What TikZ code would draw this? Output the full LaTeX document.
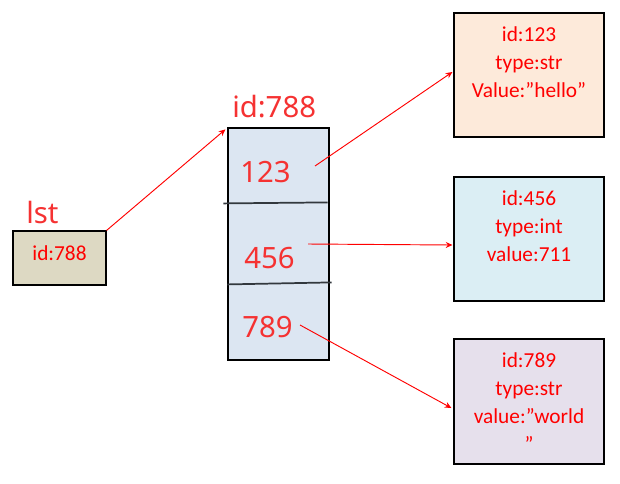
\documentclass[tikz,border=0pt]{standalone}
\usepackage{fontspec}
\setmainfont{Carlito}
\newfontfamily\bigfont{Noto Sans}
\usetikzlibrary{arrows.meta,positioning,calc}
\definecolor{lstfill}{RGB}{221,217,195}
\definecolor{memfill}{RGB}{220,230,242}
\definecolor{strfill}{RGB}{253,234,218}
\definecolor{intfill}{RGB}{219,238,244}
\definecolor{wldfill}{RGB}{230,224,236}
\definecolor{textred}{RGB}{255,0,0}
\definecolor{bigred}{RGB}{245,50,50}
\definecolor{divgray}{RGB}{50,56,62}

\begin{document}
\begin{tikzpicture}[
    x=0.75pt, y=-0.75pt,
    cell/.style={draw=black, line width=0.9pt, inner sep=0pt, text=textred, font=\fontsize{16}{21}\selectfont},
    objbox/.style={cell, minimum width=112.5pt, minimum height=93pt},
    objtext/.style={anchor=north, yshift=-10.5pt, inner sep=0pt, align=center, text=textred, font=\fontsize{16}{21}\selectfont},
    biglabel/.style={anchor=base west, inner sep=0pt, text=bigred, font=\bigfont\fontsize{22}{26}\selectfont},
    divider/.style={draw=divgray, line width=1.3pt},
    ptr/.style={-{Stealth[length=5pt,width=4.5pt]}, draw=red, line width=0.7pt}
]
    \useasboundingbox (0,0) rectangle (620,483);

    % Variable lst
    \node[cell, fill=lstfill, minimum width=69.75pt, minimum height=40.5pt, text depth=8pt] (lst) at (59.5,258) {id:788};
    \node[biglabel] (lstname) at (26,223) {lst};

    % List object id:788
    \node[cell, fill=memfill, minimum width=75.75pt, minimum height=174pt] (mem) at (278.5,244) {};
    \node[biglabel] (memid) at (232,117) {id:788};
    \draw[divider] ($(mem.north west)+(-4,76)$) -- ($(mem.north east)+(-2,75)$);
    \draw[divider] ($(mem.north west)+(0,157)$) -- ($(mem.north east)+(2,155)$);
    \node[biglabel] (n123) at (240,182) {123};
    \node[biglabel] (n456) at (244,268) {456};
    \node[biglabel] (n789) at (242,337) {789};

    % Element objects
    \node[objbox, fill=strfill] (o123) at (529,75) {};
    \node[objtext] (t123) at (o123.north) {id:123\\type:str\\Value:”hello”};
    \node[objbox, fill=intfill] (o456) at (529,239) {};
    \node[objtext] (t456) at (o456.north) {id:456\\type:int\\value:711};
    \node[objbox, fill=wldfill, minimum height=93.75pt] (o789) at (529,401.5) {};
    \node[objtext] (t789) at (o789.north) {id:789\\type:str\\value:”world\\”};

    % References
    \coordinate (p123) at (315,166);
    \coordinate (p456) at (308,244);
    \coordinate (p789) at (300,325);
    \draw[ptr] (lst.north east) -- ($(mem.north west)+(-2,2)$);
    \draw[ptr] (p123) -- ($(o123.west)+(-1,-3)$);
    \draw[ptr] (p456) -- ($(o456.west)+(-1,6)$);
    \draw[ptr] (p789) -- ($(o789.west)+(-2,6.5)$);
\end{tikzpicture}
\end{document}
